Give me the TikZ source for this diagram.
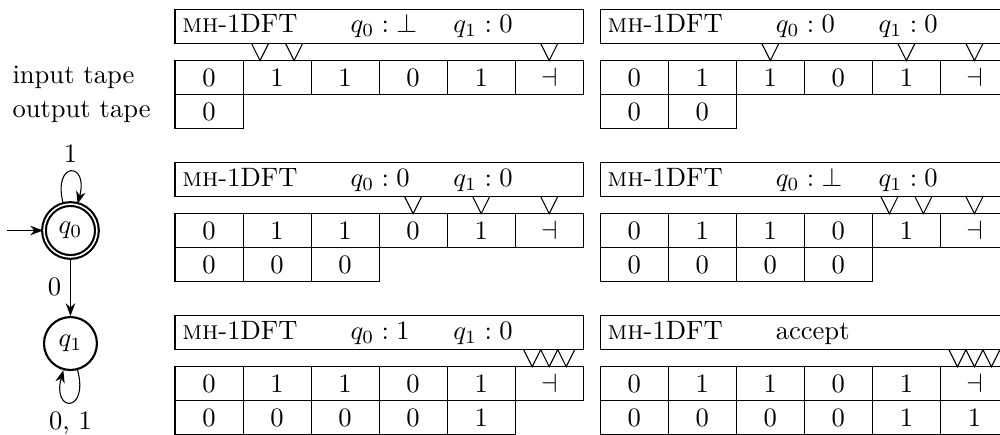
\documentclass[tikz,border=0pt]{standalone}
\usetikzlibrary{arrows.meta}
\newcommand{\regpair}[2]{\makebox[1.36cm][l]{$q_0:#1$}$q_1:#2$}
\begin{document}
\begin{tikzpicture}[>=Stealth,
        cell/.style={draw,minimum width=0.9cm,minimum height=0.45cm,inner sep=0pt,outer sep=0pt},
        header/.style={draw,minimum width=5.4cm,minimum height=0.45cm,inner sep=0pt,outer sep=0pt,anchor=north west},
        hdrtext/.style={anchor=base west,inner xsep=2pt,inner ysep=0pt},
        statenode/.style={draw,thick,circle,minimum size=0.7cm,inner sep=0pt},
        acceptnode/.style={statenode,double,double distance=0.6pt}]
    \useasboundingbox (-2.315,0.126) rectangle (10.913,-5.615);
    \clip (-2.315,0.126) rectangle (10.913,-5.615);
    \node[anchor=west] (intape) at (-2.273,-0.9) {input tape};
    \node[anchor=west] (outtape) at (-2.273,-1.35) {output tape};
    \foreach \px/\py/\regtext/\outs/\heads [count=\n] in {
            0/0/{\regpair{\bot}{0}}/{0}/{1.125,1.575,4.95},
            5.625/0/{\regpair{0}{0}}/{0,0}/{2.25,4.05,4.95},
            0/-2.025/{\regpair{0}{0}}/{0,0,0}/{3.15,4.05,4.95},
            5.625/-2.025/{\regpair{\bot}{0}}/{0,0,0,0}/{3.825,4.275,4.95},
            0/-4.05/{\regpair{1}{0}}/{0,0,0,0,1}/{4.725,4.95,5.175},
            5.625/-4.05/{accept}/{0,0,0,0,1,1}/{4.725,4.95,5.175}}
    {
        \node[header] (hdr\n) at (\px,\py) {};
        \node[hdrtext] (name\n) at (\px+0.02,\py-0.31) {\textsc{mh}-1DFT};
        \node[hdrtext] (regs\n) at (\px+2.245,\py-0.31) {\regtext};
        \foreach \h in \heads
            \draw (\px+\h-0.1125,\py-0.45) -- (\px+\h,\py-0.675) -- (\px+\h+0.1125,\py-0.45);
        \foreach \v [count=\k] in {0,1,1,0,1,$\dashv$}
            \node[cell] (in\n-\k) at ({\px+0.9*\k-0.45},\py-0.9) {\v};
        \foreach \v [count=\k] in \outs
            \node[cell] (out\n-\k) at ({\px+0.9*\k-0.45},\py-1.35) {\v};
    }
    \node[acceptnode] (q0) at (-1.383,-2.923) {$q_0$};
    \node[statenode] (q1) at (-1.383,-4.418) {$q_1$};
    \coordinate (start) at (-2.222,-2.923);
    \draw[->] (start) -- (q0);
    \draw[->] (q0) -- node[left] {0} (q1);
    \draw[->] (q0) to[loop above] node[above] {1} (q0);
    \draw[->] (q1) to[loop below] node[below] {0, 1} (q1);
\end{tikzpicture}
\end{document}
